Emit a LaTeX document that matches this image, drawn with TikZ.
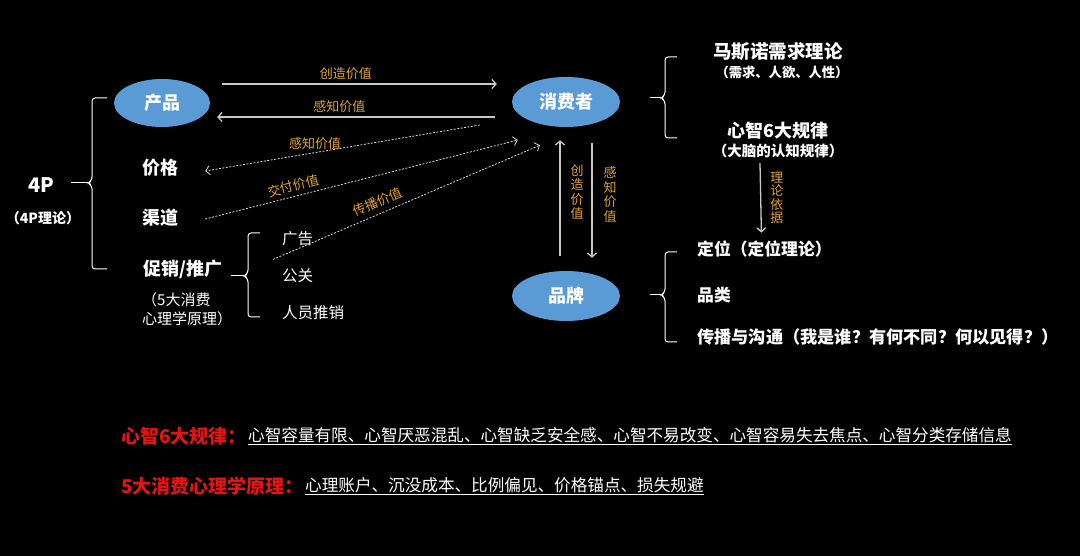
\documentclass[tikz,border=0pt]{standalone}
\usepackage{fontspec}
\setmainfont{Noto Sans CJK SC}
\usetikzlibrary{shapes.geometric,arrows.meta}
\definecolor{ellblue}{RGB}{91,155,213}
\definecolor{lblorange}{RGB}{225,162,52}
\definecolor{linegray}{RGB}{200,200,200}
\definecolor{redtxt}{RGB}{228,20,20}
\begin{document}
\begin{tikzpicture}[x=1pt,y=-1pt,
    ell/.style={ellipse,fill=ellblue,text=white,minimum width=108pt,minimum height=50pt,font=\fontsize{18}{20}\selectfont\bfseries},
    txt/.style={text=white,inner sep=0pt,font=\fontsize{18}{20}\selectfont\bfseries},
    sml/.style={text=white,inner sep=0pt,font=\fontsize{15.5}{19}\selectfont},
    lbl/.style={text=lblorange,inner sep=1pt,font=\fontsize{13}{14.5}\selectfont},
    arr/.style={linegray,line width=1.3pt,-{Straight Barb[length=4pt,width=9pt]}},
    dotarr/.style={white!85!black,line width=0.8pt,dash pattern=on 2pt off 1.5pt,-{Straight Barb[length=4pt,width=9pt]}},
    brc/.style={white,line width=1pt,rounded corners=3pt}]
    \fill[black] (0,0) rectangle (1080,556);
    % 4P ====================================================
    \node[txt,font=\fontsize{20}{22}\selectfont\bfseries] (p4) at (41,185) {4P};
    \node[txt,font=\fontsize{14}{16}\selectfont\bfseries] (p4s) at (43,218) {（4P理论）};
    \node[ell,minimum width=96pt,minimum height=48pt] (cp) at (162,103) {产品};
    \node[txt]                      (jg)  at (160,168) {价格};
    \node[txt]                      (qd)  at (160,218) {渠道};
    \node[txt]                      (cx)  at (183,269) {促销/推广};
    \node[sml,font=\fontsize{15}{19}\selectfont,align=left,anchor=west] (cxs) at (142,309) {（5大消费\\心理学原理）};
    \node[sml,anchor=west]          (gg)  at (282,239) {广告};
    \node[sml,anchor=west]          (gk)  at (282,276) {公关};
    \node[sml,anchor=west]          (ry)  at (282,313) {人员推销};
    \coordinate (tipA) at (88,183);
    \coordinate (tipB) at (244,276);
    \draw[brc] (107,98) -- (92,98) -- (92,180) -- (tipA) -- (92,186) -- (92,269) -- (107,269);
    \draw[brc] (260,233) -- (248,233) -- (248,273) -- (tipB) -- (248,279) -- (248,317) -- (260,317);
    \draw[white,line width=1pt] ([shift={(17,-2)}]p4.east) -- (tipA);
    \draw[white,line width=1pt] ([shift={(8,7)}]cx.east) -- (tipB);
    % consumer / brand =====================================
    \node[ell]                      (xf)  at (566,102) {消费者};
    \node[ell]                      (pp)  at (566,296) {品牌};
    \coordinate (tipC) at (661,98);
    \coordinate (tipD) at (661,295);
    \draw[brc] (677,57) -- (665,57) -- (665,95) -- (tipC) -- (665,101) -- (665,138) -- (677,138);
    \draw[brc] (677,252) -- (665,252) -- (665,292) -- (tipD) -- (665,298) -- (665,342) -- (677,342);
    \draw[white,line width=1pt] ([shift={(30,-4)}]xf.east) -- (tipC);
    \draw[white,line width=1pt] ([shift={(30,-1)}]pp.east) -- (tipD);
    % theories ==============================================
    \node[txt,font=\fontsize{18.5}{20}\selectfont\bfseries] (msn)  at (778,52)  {马斯诺需求理论};
    \node[txt,font=\fontsize{13.3}{15}\selectfont\bfseries] (msns) at (782,72)  {（需求、人欲、人性）};
    \node[txt]                                              (xz)   at (778,131) {心智6大规律};
    \node[txt,font=\fontsize{14.5}{16}\selectfont\bfseries] (xzs)  at (778,151) {（大脑的认知规律）};
    \node[txt,font=\fontsize{16.8}{18}\selectfont\bfseries,anchor=west] (dw) at (697,249) {定位（定位理论）};
    \node[txt,font=\fontsize{16.8}{18}\selectfont\bfseries,anchor=west] (pl) at (697,295) {品类};
    \node[txt,font=\fontsize{17.2}{18}\selectfont\bfseries,anchor=west] (cb) at (697,337) {传播与沟通（我是谁？有何不同？何以见得？）};
    % values ================================================
    \draw[arr] ([shift={(12,-19)}]cp.east) -- ([shift={(-15,-18)}]xf.west) node[lbl,pos=.45,above=3pt] {创造价值};
    \draw[arr] ([shift={(-17,15)}]xf.west) -- ([shift={(7,14)}]cp.east) node[lbl,pos=.56,above=3pt] {感知价值};
    \draw[dotarr] ([shift={(-32,23)}]xf.west) -- ([shift={(27,3)}]jg.east) node[lbl,pos=.6,above=2pt] {感知价值};
    \draw[dotarr] ([shift={(27,1)}]qd.east) -- ([shift={(6,38)}]xf.west) node[lbl,pos=.29,sloped,above=3pt] {交付价值};
    \draw[dotarr] ([shift={(-9,13)}]gg.south west) -- ([shift={(-26,18)}]xf.south) node[lbl,pos=.41,sloped,above=4pt] {传播价值};
    \draw[arr] ([shift={(-6,-15)}]pp.north) -- ([shift={(-6,13)}]xf.south) node[lbl,align=center,pos=.55,right=9pt] {创\\造\\价\\值};
    \draw[arr] ([shift={(26,16)}]xf.south) -- ([shift={(26,-13)}]pp.north) node[lbl,align=center,pos=.45,right=10pt] {感\\知\\价\\值};
    \draw[arr] ([shift={(-18,5)}]xzs.south) -- ([shift={(-3,-8)}]dw.north) node[lbl,align=center,midway,right=8pt,font=\fontsize{13}{13.5}\selectfont] {理\\论\\依\\据};
    % notes =================================================
    \node[txt,text=redtxt,font=\fontsize{19}{21}\selectfont\bfseries,anchor=west] (r1) at (121,436) {心智6大规律：};
    \node[txt,font=\fontsize{16.6}{19}\selectfont,anchor=west] (u1) at (248,436) {\underline{心智容量有限、心智厌恶混乱、心智缺乏安全感、心智不易改变、心智容易失去焦点、心智分类存储信息}};
    \node[txt,text=redtxt,font=\fontsize{19}{21}\selectfont\bfseries,anchor=west] (r2) at (121,486) {5大消费心理学原理：};
    \node[txt,font=\fontsize{16.6}{19}\selectfont,anchor=west] (u2) at (305,486) {\underline{心理账户、沉没成本、比例偏见、价格锚点、损失规避}};
\end{tikzpicture}
\end{document}
